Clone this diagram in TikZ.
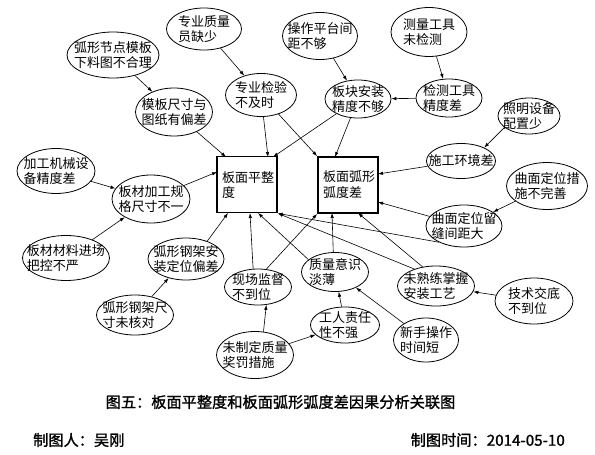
\documentclass[tikz,border=0pt]{standalone}
\usepackage{fontspec}
\newfontfamily\cjk{Noto Sans CJK SC}
\newfontfamily\cjkb[FakeBold=1.2]{Noto Sans CJK SC}
\usetikzlibrary{shapes.geometric,arrows.meta,calc}
\newcommand\ellnode[6]{%
  \node[ell,minimum width=#4pt,minimum height=#5pt] (#1) at (#2,#3) {};
  \node[txt] (#1-t) at (#2,#3) {#6};}
\begin{document}
\begin{tikzpicture}[x=1pt,y=-1pt,
  ell/.style={draw, ellipse, line width=0.8pt, inner sep=0pt},
  txt/.style={align=left, inner sep=0pt, font=\cjk\fontsize{13}{15.5}\selectfont},
  box/.style={draw, line width=1.8pt, inner sep=0pt, minimum width=60pt, minimum height=56pt},
  arr/.style={-{Latex[length=5pt,width=3.5pt]}, line width=0.6pt},
  captxt/.style={inner sep=0pt, font=\cjkb\fontsize{15.2}{15.2}\selectfont}]
\useasboundingbox (0,0) rectangle (595,455);
\fill[white] (0,0) rectangle (595,455);

% effect boxes
\node[box] (A) at (247,184.5) {};
\node[txt, anchor=north west] (A-t) at (222,171) {板面平整\\度};
\node[box] (B) at (348,185) {};
\node[txt, anchor=north west] (B-t) at (323,170.5) {板面弧形\\弧度差};

% causes
\ellnode{sq}{204}{29}{75}{42}{专业质量\\员缺少}
\ellnode{tplz}{113}{55}{92}{46}{弧形节点模板\\下料图不合理}
\ellnode{tpl}{174}{112}{77}{48}{模板尺寸与\\图纸有偏差}
\ellnode{insp}{261}{95}{71}{43}{专业检验\\不及时}
\ellnode{plat}{320}{36}{75}{47}{操作平台间\\距不够}
\ellnode{meas}{429}{32}{76}{49}{测量工具\\未检测}
\ellnode{inst}{358}{99}{66}{38}{板块安装\\精度不够}
\ellnode{tool}{449}{98}{66}{38}{检测工具\\精度差}
\ellnode{light}{529}{116}{62}{36}{照明设备\\配置少}
\ellnode{env}{461}{161}{69}{35}{施工环境差}
\ellnode{cmeas}{547}{186}{81}{47}{曲面定位措\\施不完善}
\ellnode{gap}{464}{226}{76}{42}{曲面定位留\\缝间距大}
\ellnode{skill}{436}{286}{77}{40}{未熟练掌握\\安装工艺}
\ellnode{tech}{534}{301}{78}{46}{技术交底\\不到位}
\ellnode{novice}{426}{340}{65}{44}{新手操作\\时间短}
\ellnode{worker}{345}{325}{69}{36}{工人责任\\性不强}
\ellnode{reward}{255}{355}{77}{47}{未制定质量\\奖罚措施}
\ellnode{super}{258}{287}{67}{36}{现场监督\\不到位}
\ellnode{qual}{335}{272}{67}{39}{质量意识\\淡薄}
\ellnode{frame}{186}{259}{76}{42}{弧形钢架安\\装定位偏差}
\ellnode{fsize}{135}{315}{77}{40}{弧形钢架尺\\寸未核对}
\ellnode{mat}{66}{258}{87}{45}{板材材料进场\\把控不严}
\ellnode{mach}{56}{171}{78}{45}{加工机械设\\备精度差}
\ellnode{proc}{151}{199}{78}{48}{板材加工规\\格尺寸不一}

% connector end points on the boxes
\coordinate (A1) at (226,157);
\coordinate (A2) at (268,157);
\coordinate (A3) at (273,157);
\coordinate (A4) at (250,213);
\coordinate (A5) at (258,213);
\coordinate (A6) at (228,213);
\coordinate (A7) at (217,172);
\coordinate (B2) at (335,157);
\coordinate (B3) at (378,174);
\coordinate (B4) at (378,202);
\coordinate (B5) at (358,213);
\coordinate (B6) at (332,213);

% connectors
\draw[arr] (sq) -- (insp);
\draw[arr] (tplz) -- (tpl);
\draw[arr] (tpl) -- (A1);
\draw[arr] (insp) -- (A2);
\draw[arr] (insp) -- (B.north west);
\draw[arr] (inst) -- (A3);
\draw[arr] (inst) -- (B2);
\draw[arr] (plat) -- (inst);
\draw[arr] (meas) -- (tool);
\draw[arr] (tool) -- (inst);
\draw[arr] (light.205) -- (env.30);
\draw[arr] (env) -- (B3);
\draw[arr] (cmeas) -- (gap);
\draw[arr] (gap) -- (B4);
\draw[arr] (gap.213) -- (A.south east);
\draw[arr] (skill.142) -- (A.south east);
\draw[arr] (skill.125) -- (B5);
\draw[arr] (tech) -- (skill);
\draw[arr] (novice) -- (qual);
\draw[arr] (worker) -- (qual);
\draw[arr] (reward) -- (worker);
\draw[arr] (reward.70) -- (super.295);
\draw[arr] (super.105) -- (A4);
\draw[arr] (super.65) -- (B.south west);
\draw[arr] (qual.155) -- (A5);
\draw[arr] (qual.95) -- (B6);
\draw[arr] (frame.40) -- (A6);
\draw[arr] (fsize) -- (frame);
\draw[arr] (proc) -- (A7);
\draw[arr] (mach) -- (proc);
\draw[arr] (mat) -- (proc);

% caption and footer
\node[captxt] (title) at (280.5,402) {图五：板面平整度和板面弧形弧度差因果分析关联图};
\node[captxt, anchor=west] (maker) at (33,440) {制图人：吴刚};
\node[captxt, anchor=east] (date) at (565,440) {制图时间：2014-05-10};
\end{tikzpicture}
\end{document}
